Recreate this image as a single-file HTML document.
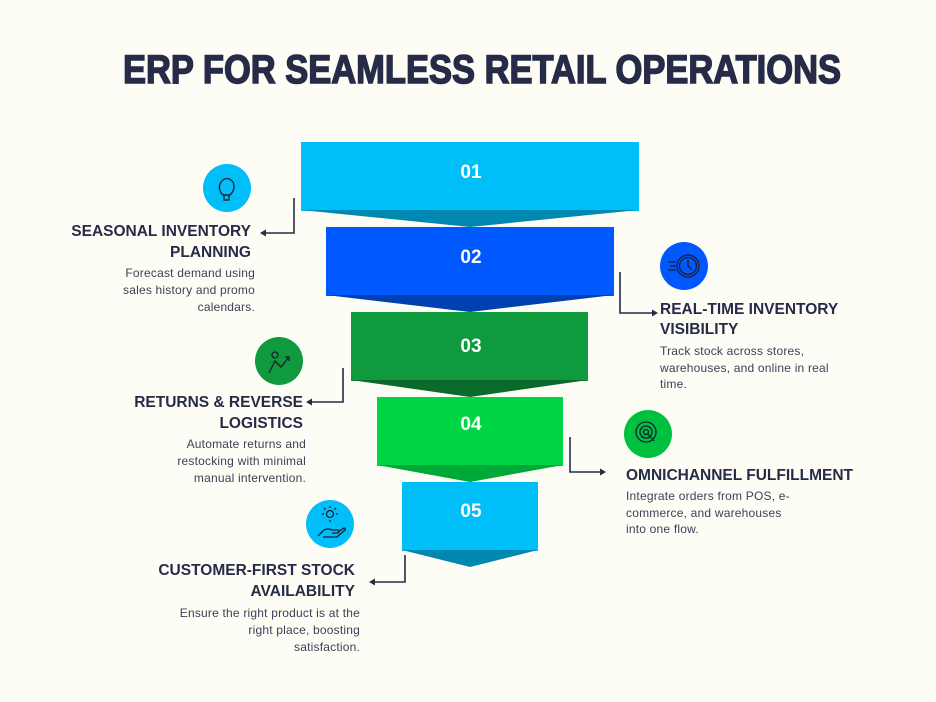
<!DOCTYPE html>
<html><head><meta charset="utf-8"><style>
html,body{margin:0;padding:0;background:#fdfdf5}
svg{display:block}
.h{font-family:"Liberation Sans",sans-serif;font-weight:bold;font-size:15.5px;fill:#262b48}
.b{font-family:"Liberation Sans",sans-serif;font-size:12px;fill:#3c4058;letter-spacing:0.2px}
.n{font-family:"Liberation Sans",sans-serif;font-weight:bold;font-size:19px;fill:#fff}
</style></head><body>
<svg width="936" height="702" viewBox="0 0 936 702" xmlns="http://www.w3.org/2000/svg">
<rect width="936" height="702" fill="#fdfdf5"/>
<text x="482" y="83" text-anchor="middle" font-family="Liberation Sans,sans-serif" font-weight="bold" font-size="40" fill="#262b48" stroke="#262b48" stroke-width="1.5" textLength="718" lengthAdjust="spacingAndGlyphs">ERP FOR SEAMLESS RETAIL OPERATIONS</text>

<!-- funnel -->
<rect x="301" y="142" width="338" height="69" fill="#00bff8"/>
<polygon points="301,210 639,210 470,227" fill="#0088b0"/>
<rect x="326" y="227" width="288" height="69" fill="#0059ff"/>
<polygon points="326,295 614,295 470,312" fill="#0040b0"/>
<rect x="351" y="312" width="237" height="69" fill="#0f9a3e"/>
<polygon points="351,380 588,380 470,397" fill="#0a6a2b"/>
<rect x="377" y="397" width="186" height="69" fill="#00d645"/>
<polygon points="377,465 563,465 470,482" fill="#00a838"/>
<rect x="402" y="482" width="136" height="69" fill="#00bff8"/>
<polygon points="402,550 538,550 470,567" fill="#0088b0"/>
<text class="n" x="471" y="178" text-anchor="middle">01</text>
<text class="n" x="471" y="263" text-anchor="middle">02</text>
<text class="n" x="471" y="352" text-anchor="middle">03</text>
<text class="n" x="471" y="430" text-anchor="middle">04</text>
<text class="n" x="471" y="517" text-anchor="middle">05</text>

<!-- connectors -->
<g stroke="#262b48" stroke-width="1.6" fill="none">
<polyline points="294,198 294,233 264,233"/>
<polyline points="620,272 620,313 654,313"/>
<polyline points="343,368 343,402 310,402"/>
<polyline points="570,437 570,472 602,472"/>
<polyline points="405,555 405,582 373,582"/>
</g>
<g fill="#262b48">
<polygon points="260,233 266,229.5 266,236.5"/>
<polygon points="658,313 652,309.5 652,316.5"/>
<polygon points="306,402 312,398.5 312,405.5"/>
<polygon points="606,472 600,468.5 600,475.5"/>
<polygon points="369,582 375,578.5 375,585.5"/>
</g>

<!-- icons -->
<circle cx="227" cy="188" r="24" fill="#00bff8"/>
<circle cx="684" cy="266" r="24" fill="#0059ff"/>
<circle cx="279" cy="361" r="24" fill="#0f9a3e"/>
<circle cx="648" cy="434" r="24" fill="#00c040"/>
<circle cx="330" cy="524" r="24" fill="#00bff8"/>
<g stroke="#1a1f30" stroke-width="1.3" fill="none">
<path d="M223,195 q-6,-6 -2,-13 q6,-7 12,0 q3,7 -3,13 z"/><rect x="224" y="195" width="5" height="5"/>
<circle cx="688" cy="266" r="11"/><circle cx="688" cy="266" r="8.5"/><path d="M688,259 v7 l4,4 M668,262 h8 M670,266 h6 M668,270 h8"/>
<path d="M269,373 l6,-12 l6,6 l8,-10 M285,357 h4 v4"/><circle cx="275" cy="355" r="3"/>
<circle cx="646" cy="432" r="10"/><circle cx="646" cy="432" r="6"/><circle cx="646" cy="432" r="2.5"/><path d="M648,434 l6,7"/>
<circle cx="330" cy="514" r="3.5"/><path d="M330,506 v2 M330,520 v2 M322,514 h2 M336,514 h2 M324,508 l1.5,1.5 M336,508 l-1.5,1.5 M318,536 l6,-6 q4,-2 8,0 h6 q2,2 0,3 h-6 M338,532 l6,-4 q2,0 1,2 l-8,7 h-14"/>
</g>

<!-- text 1 -->
<text class="h" x="251" y="236" text-anchor="end">SEASONAL INVENTORY</text>
<text class="h" x="251" y="257" text-anchor="end">PLANNING</text>
<text class="b" x="255" y="277" text-anchor="end">Forecast demand using</text>
<text class="b" x="255" y="294" text-anchor="end">sales history and promo</text>
<text class="b" x="255" y="311" text-anchor="end">calendars.</text>
<!-- text 2 -->
<text class="h" x="660" y="314">REAL-TIME INVENTORY</text>
<text class="h" x="660" y="334">VISIBILITY</text>
<text class="b" x="660" y="355">Track stock across stores,</text>
<text class="b" x="660" y="372">warehouses, and online in real</text>
<text class="b" x="660" y="388">time.</text>
<!-- text 3 -->
<text class="h" x="303" y="407" text-anchor="end">RETURNS &amp; REVERSE</text>
<text class="h" x="303" y="428" text-anchor="end">LOGISTICS</text>
<text class="b" x="306" y="448" text-anchor="end">Automate returns and</text>
<text class="b" x="306" y="465" text-anchor="end">restocking with minimal</text>
<text class="b" x="306" y="482" text-anchor="end">manual intervention.</text>
<!-- text 4 -->
<text class="h" x="626" y="480">OMNICHANNEL FULFILLMENT</text>
<text class="b" x="626" y="500">Integrate orders from POS, e-</text>
<text class="b" x="626" y="517">commerce, and warehouses</text>
<text class="b" x="626" y="533">into one flow.</text>
<!-- text 5 -->
<text class="h" x="355" y="575" text-anchor="end">CUSTOMER-FIRST STOCK</text>
<text class="h" x="355" y="596" text-anchor="end">AVAILABILITY</text>
<text class="b" x="360" y="617" text-anchor="end">Ensure the right product is at the</text>
<text class="b" x="360" y="634" text-anchor="end">right place, boosting</text>
<text class="b" x="360" y="651" text-anchor="end">satisfaction.</text>
</svg>
</body></html>
